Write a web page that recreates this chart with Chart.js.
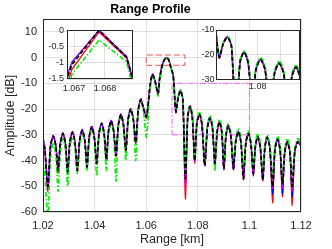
<!DOCTYPE html>
<html>
<head>
<meta charset="utf-8">
<script src="https://cdn.jsdelivr.net/npm/chart.js@4.4.1/dist/chart.umd.min.js"></script>
<style>
  html, body { margin: 0; padding: 0; background: #fff; }
  #wrap { position: relative; width: 332px; height: 249px; }
  canvas { position: absolute; }
</style>
</head>
<body>
<div id="wrap">
  <canvas id="main" width="332" height="249" style="left:0;top:0"></canvas>
  <canvas id="peakInset" width="104" height="72" style="left:36px;top:22px"></canvas>
  <canvas id="lobeInset" width="118" height="72" style="left:188px;top:22px"></canvas>
</div>
<script>
// range axis (km), one entry per sample
const rangeKm = [
  1.0200, 1.0207, 1.0219, 1.0229, 1.0240, 1.0250, 1.02585, 1.0267, 1.0277, 1.0287,
  1.02955, 1.0304, 1.0314, 1.0324, 1.0333, 1.0342, 1.0352, 1.0362, 1.03705, 1.0379,
  1.0389, 1.0399, 1.0408, 1.0417, 1.0427, 1.0437, 1.04455, 1.0454, 1.0464, 1.0474,
  1.0483, 1.0492, 1.0502, 1.0512, 1.0521, 1.0530, 1.0540, 1.0550, 1.05595, 1.0569,
  1.0579, 1.0589, 1.0601, 1.0615, 1.0624, 1.0634, 1.0646, 1.06517, 1.06605, 1.06693,
  1.06781, 1.0687, 1.06958, 1.07047, 1.0715, 1.0724, 1.0733, 1.0742, 1.0752, 1.0761,
  1.0770, 1.0779, 1.0788, 1.0796, 1.0806, 1.0816, 1.0827, 1.0837, 1.0847, 1.0857,
  1.0866, 1.0875, 1.0884, 1.0893, 1.0901, 1.0909, 1.0918, 1.0928, 1.0938, 1.0947,
  1.0957, 1.0967, 1.0977, 1.0986, 1.0996, 1.1006, 1.1015, 1.1023, 1.1032, 1.1042,
  1.1052, 1.1060, 1.1069, 1.1079, 1.1090, 1.1099, 1.1109, 1.1119, 1.1128, 1.1137,
  1.1147, 1.1157, 1.1166, 1.1176, 1.1187, 1.1200,
];

// amplitude [dB] per profile
const ampBlack = [
  -31.5, -35.5, -50, -34.5, -30.5, -34.5, -43.8, -33.5, -29.5, -33.5,
  -44.4, -33, -29, -33, -43.8, -32.2, -28.2, -32.2, -42.5, -31,
  -26.9, -31, -41, -29.6, -25.6, -29.6, -39.5, -28.6, -24.6, -28.6,
  -38, -26.2, -22.2, -26.2, -36, -24, -20, -24, -33, -20.5,
  -16.3, -19.5, -23, -11, -6.5, -9, -14, -8.5, -3.5, -1.05,
  0, -0.83, -3.8, -7, -21, -15.5, -12.9, -16.5, -47, -23,
  -19, -23.5, -40, -26, -22, -26, -42, -27.5, -23.5, -27.5,
  -41, -29, -25, -29, -43, -30.5, -26.5, -30.5, -43, -32.8,
  -28.8, -32.8, -47, -33.5, -29.5, -33.5, -45, -34.8, -30.8, -34.8,
  -47.5, -35, -31, -35, -50, -35.8, -31.8, -35.8, -49, -36.8,
  -32.8, -36.8, -50, -36.5, -32.8, -34.5,
];
const ampGreen = [
  -40, -46, -62, -39, -33, -38, -52, -37, -31.5, -36,
  -50, -35.5, -31, -35, -45, -34, -29.5, -33.5, -44, -32.5,
  -28, -32, -46, -31, -26.5, -30.5, -44, -30, -25.5, -29.5,
  -48, -27.5, -23, -27, -40, -25, -20.5, -24.5, -40, -21.5,
  -17, -20.5, -31, -12, -7, -9.5, -15, -9.5, -4.6, -1.35,
  -0.3, -0.97, -4.2, -7.5, -20, -15, -12.5, -15.5, -45, -22,
  -18.5, -22, -38, -25, -21, -24.5, -40, -26.5, -22.5, -26,
  -44, -28, -24, -27.5, -40, -29.5, -25.5, -29, -41, -31.5,
  -27.5, -31, -43, -32.5, -28.5, -32, -42, -33.5, -29.5, -33,
  -44, -34, -30, -33.5, -45, -34.5, -30.5, -34, -47, -35.5,
  -31.5, -35, -46, -35.5, -31.5, -33,
];
const ampRed = [
  -31.5, -35.8, -52, -34.6, -30.5, -34.6, -45, -33.6, -29.5, -33.6,
  -44, -33.1, -29, -33.1, -44.5, -32.3, -28.2, -32.3, -42, -31.1,
  -26.9, -31.1, -41.5, -29.7, -25.6, -29.7, -40, -28.7, -24.6, -28.7,
  -38.5, -26.3, -22.2, -26.3, -36.5, -24.1, -20, -24.1, -33.5, -20.6,
  -16.3, -19.6, -23.5, -11.1, -6.5, -9.1, -14.2, -8.7, -3.8, -1.2,
  -0.05, -0.85, -3.9, -7.1, -21.5, -15.6, -12.9, -16.6, -55, -23.1,
  -19, -23.6, -41, -26.1, -22, -26.1, -41.5, -27.6, -23.5, -27.6,
  -42, -29.1, -25, -29.1, -43.5, -30.6, -26.5, -30.6, -43.5, -32.9,
  -28.8, -32.9, -47.5, -33.6, -29.5, -33.6, -46, -34.9, -30.8, -34.9,
  -48, -35.1, -31, -35.1, -56.5, -35.9, -31.8, -35.9, -54, -36.9,
  -32.8, -36.9, -57.5, -36.6, -32.8, -34.6,
];
const ampBlue = [
  -31.4, -35.4, -50.5, -34.4, -30.4, -34.4, -44, -33.4, -29.4, -33.4,
  -45, -32.9, -28.9, -32.9, -43.5, -32.1, -28.1, -32.1, -42.5, -30.9,
  -26.8, -30.9, -41, -29.5, -25.5, -29.5, -39.5, -28.5, -24.5, -28.5,
  -38, -26.1, -22.1, -26.1, -36, -23.9, -19.9, -23.9, -33, -20.4,
  -16.2, -19.4, -23, -10.9, -6.4, -8.9, -13.9, -8.4, -3.3, -0.98,
  0, -0.8, -3.7, -6.9, -21, -15.4, -12.8, -16.4, -48, -22.9,
  -18.9, -23.4, -40, -25.9, -21.9, -25.9, -42, -27.4, -23.4, -27.4,
  -41.5, -28.9, -24.9, -28.9, -43.5, -30.4, -26.4, -30.4, -43.5, -32.7,
  -28.7, -32.7, -46, -33.4, -29.4, -33.4, -45.5, -34.7, -30.7, -34.7,
  -47.5, -34.9, -30.9, -34.9, -53, -35.7, -31.7, -35.7, -53, -36.7,
  -32.7, -36.7, -54, -36.4, -32.7, -34.4,
];
const ampMagenta = [
  -31.3, -35.3, -50, -34.2, -30.2, -34.2, -44, -33.2, -29.2, -33.2,
  -44.5, -32.7, -28.7, -32.7, -44, -31.9, -27.9, -31.9, -42.5, -30.7,
  -26.6, -30.7, -41, -29.3, -25.3, -29.3, -39.5, -28.3, -24.3, -28.3,
  -38, -25.9, -21.9, -25.9, -36, -23.7, -19.7, -23.7, -33, -20.2,
  -16, -19.2, -23, -10.8, -6.3, -8.8, -13.8, -8.4, -3.4, -1.0,
  0.02, -0.82, -3.8, -6.9, -21, -15.2, -12.6, -16.2, -51, -22.7,
  -18.7, -23.2, -40, -25.7, -21.7, -25.7, -42, -27.2, -23.2, -27.2,
  -41, -28.7, -24.7, -28.7, -43, -30.2, -26.2, -30.2, -43, -32.5,
  -28.5, -32.5, -47, -33.2, -29.2, -33.2, -45, -34.5, -30.5, -34.5,
  -47.5, -34.7, -30.7, -34.7, -51, -35.5, -31.5, -35.5, -51, -36.5,
  -32.5, -36.5, -52, -36.2, -32.5, -34.3,
];

// main axes
const xTicks = [1.02, 1.04, 1.06, 1.08, 1.1, 1.12];
const yTicks = [-60, -50, -40, -30, -20, -10, 0, 10];

// zoom boxes drawn on the main plot
const peakBoxKm = [1.06, 1.075];
const peakBoxDb = [-3, 1];
const lobeBoxKm = [1.07, 1.1];
const lobeBoxDb = [-30, -10];

// insets
const peakInsetKm = [1.06677, 1.06891];
const peakInsetDb = [-1.5, 0];
const peakInsetTicksKm = [1.067, 1.068];
const peakInsetTicksDb = [-1.5, -1, -0.5, 0];
const lobeInsetKm = [1.0708, 1.0892];
const lobeInsetDb = [-30, -10];
const lobeInsetTicksKm = [1.075, 1.08, 1.085];
const lobeInsetLabelsKm = [1.08];
const lobeInsetTicksDb = [-30, -20, -10];

Chart.defaults.font.family = "'Liberation Sans', Arial, Helvetica, sans-serif";
Chart.defaults.color = "#262626";

const GRID = "rgba(38,38,38,0.15)";

const series = [
  { data: ampBlack, color: "#000000", width: 1.8, dash: [4, 2.5] },
  { data: ampGreen, color: "#00ee00", width: 1.6, dash: [5, 2, 1.5, 2] },
  { data: ampMagenta, color: "#ff00ff", width: 1.6, dash: [1.5, 1.5] },
  { data: ampBlue, color: "#0000ff", width: 1.2, dash: [] },
  { data: ampRed, color: "#ff0000", width: 1.2, dash: [] },
];

const seriesSets = (tension) =>
  series.map((s) => ({
    data: rangeKm.map((x, i) => ({ x, y: s.data[i] })),
    borderColor: s.color,
    borderWidth: s.width,
    borderDash: s.dash,
    tension,
    pointRadius: 0,
    fill: false,
  }));

const boxPoints = (km, db) => [
  { x: km[0], y: db[0] },
  { x: km[1], y: db[0] },
  { x: km[1], y: db[1] },
  { x: km[0], y: db[1] },
  { x: km[0], y: db[0] },
];

// white plot background + full box around the axes
const frame = {
  id: "frame",
  beforeDraw(chart) {
    const { ctx, chartArea: a } = chart;
    ctx.save();
    ctx.fillStyle = "#fff";
    ctx.fillRect(a.left, a.top, a.right - a.left, a.bottom - a.top);
    ctx.restore();
  },
  afterDraw(chart) {
    const { ctx, chartArea: a } = chart;
    const l = Math.round(a.left) + 0.5, t = Math.round(a.top) + 0.5;
    const r = Math.round(a.right) - 0.5, b = Math.round(a.bottom) - 0.5;
    ctx.save();
    ctx.strokeStyle = "#262626";
    ctx.lineWidth = 1;
    ctx.strokeRect(l, t, r - l, b - t);
    ctx.restore();
  },
};

const fixedTicks = (list) => (s) => {
  s.ticks = list.map((v) => ({ value: v }));
};

const baseOptions = {
  responsive: false,
  animation: false,
  events: [],
  elements: { point: { radius: 0 } },
};

new Chart("main", {
  type: "line",
  data: {
    datasets: [
      ...seriesSets(0.25),
      {
        data: boxPoints(peakBoxKm, peakBoxDb),
        borderColor: "#ff4d4d",
        borderWidth: 1,
        borderDash: [6, 3],
        pointRadius: 0,
      },
      {
        data: boxPoints(lobeBoxKm, lobeBoxDb),
        borderColor: "#ff55ff",
        borderWidth: 1,
        borderDash: [6, 2, 1.5, 2],
        pointRadius: 0,
      },
    ],
  },
  options: {
    ...baseOptions,
    layout: { padding: { left: 0, right: 31, top: 0, bottom: 0 } },
    plugins: {
      legend: { display: false },
      tooltip: { enabled: false },
      title: {
        display: true,
        text: "Range Profile",
        color: "#000",
        font: { size: 12.5, weight: "bold" },
        padding: { top: 2, bottom: 2 },
      },
    },
    scales: {
      x: {
        type: "linear",
        min: 1.02,
        max: 1.12,
        afterBuildTicks: fixedTicks(xTicks),
        afterFit: (s) => { s.height = 37; },
        ticks: { callback: (v) => String(v), font: { size: 11 }, padding: 7, maxRotation: 0, autoSkip: false },
        grid: { color: GRID, drawTicks: false },
        border: { display: false },
        title: { display: true, text: "Range [km]", font: { size: 12.5 }, padding: { top: 0, bottom: 1.5 } },
      },
      y: {
        type: "linear",
        min: -60,
        max: 15,
        afterBuildTicks: fixedTicks(yTicks),
        afterFit: (s) => { s.width = 43; },
        ticks: { callback: (v) => String(v), font: { size: 11 }, padding: 6, autoSkip: false },
        grid: { color: GRID, drawTicks: false },
        border: { display: false },
        title: { display: true, text: "Amplitude [dB]", font: { size: 12.5 }, padding: { top: 3, bottom: 0 } },
      },
    },
  },
  plugins: [frame],
});

// inset around the main lobe peak
new Chart("peakInset", {
  type: "line",
  data: { datasets: seriesSets(0) },
  options: {
    ...baseOptions,
    layout: { padding: { left: 0, right: 7, top: 8, bottom: 0 } },
    plugins: { legend: { display: false }, tooltip: { enabled: false } },
    scales: {
      x: {
        type: "linear",
        min: peakInsetKm[0],
        max: peakInsetKm[1],
        afterBuildTicks: fixedTicks(peakInsetTicksKm),
        afterFit: (s) => { s.height = 15; },
        ticks: { callback: (v) => String(v), font: { size: 9 }, padding: 4, maxRotation: 0, autoSkip: false },
        grid: { color: GRID, drawTicks: false },
        border: { display: false },
      },
      y: {
        type: "linear",
        min: peakInsetDb[0],
        max: peakInsetDb[1],
        afterBuildTicks: fixedTicks(peakInsetTicksDb),
        afterFit: (s) => { s.width = 31; },
        ticks: { callback: (v) => String(v), font: { size: 9 }, padding: 3, autoSkip: false },
        grid: { color: GRID, drawTicks: false },
        border: { display: false },
      },
    },
  },
  plugins: [frame],
});

// inset over the right-hand side lobes
new Chart("lobeInset", {
  type: "line",
  data: { datasets: seriesSets(0.25) },
  options: {
    ...baseOptions,
    layout: { padding: { left: 0, right: 6.5, top: 8, bottom: 0 } },
    plugins: { legend: { display: false }, tooltip: { enabled: false } },
    scales: {
      x: {
        type: "linear",
        min: lobeInsetKm[0],
        max: lobeInsetKm[1],
        afterBuildTicks: fixedTicks(lobeInsetTicksKm),
        afterFit: (s) => { s.height = 14.5; },
        ticks: {
          callback: (v) => (lobeInsetLabelsKm.includes(v) ? String(v) : ""),
          font: { size: 9 },
          padding: 1.5,
          maxRotation: 0,
          autoSkip: false,
        },
        grid: { color: GRID, drawTicks: false },
        border: { display: false },
      },
      y: {
        type: "linear",
        min: lobeInsetDb[0],
        max: lobeInsetDb[1],
        afterBuildTicks: fixedTicks(lobeInsetTicksDb),
        afterFit: (s) => { s.width = 28; },
        ticks: { callback: (v) => String(v), font: { size: 9 }, padding: 1.5, autoSkip: false },
        grid: { color: GRID, drawTicks: false },
        border: { display: false },
      },
    },
  },
  plugins: [frame],
});
</script>
</body>
</html>
